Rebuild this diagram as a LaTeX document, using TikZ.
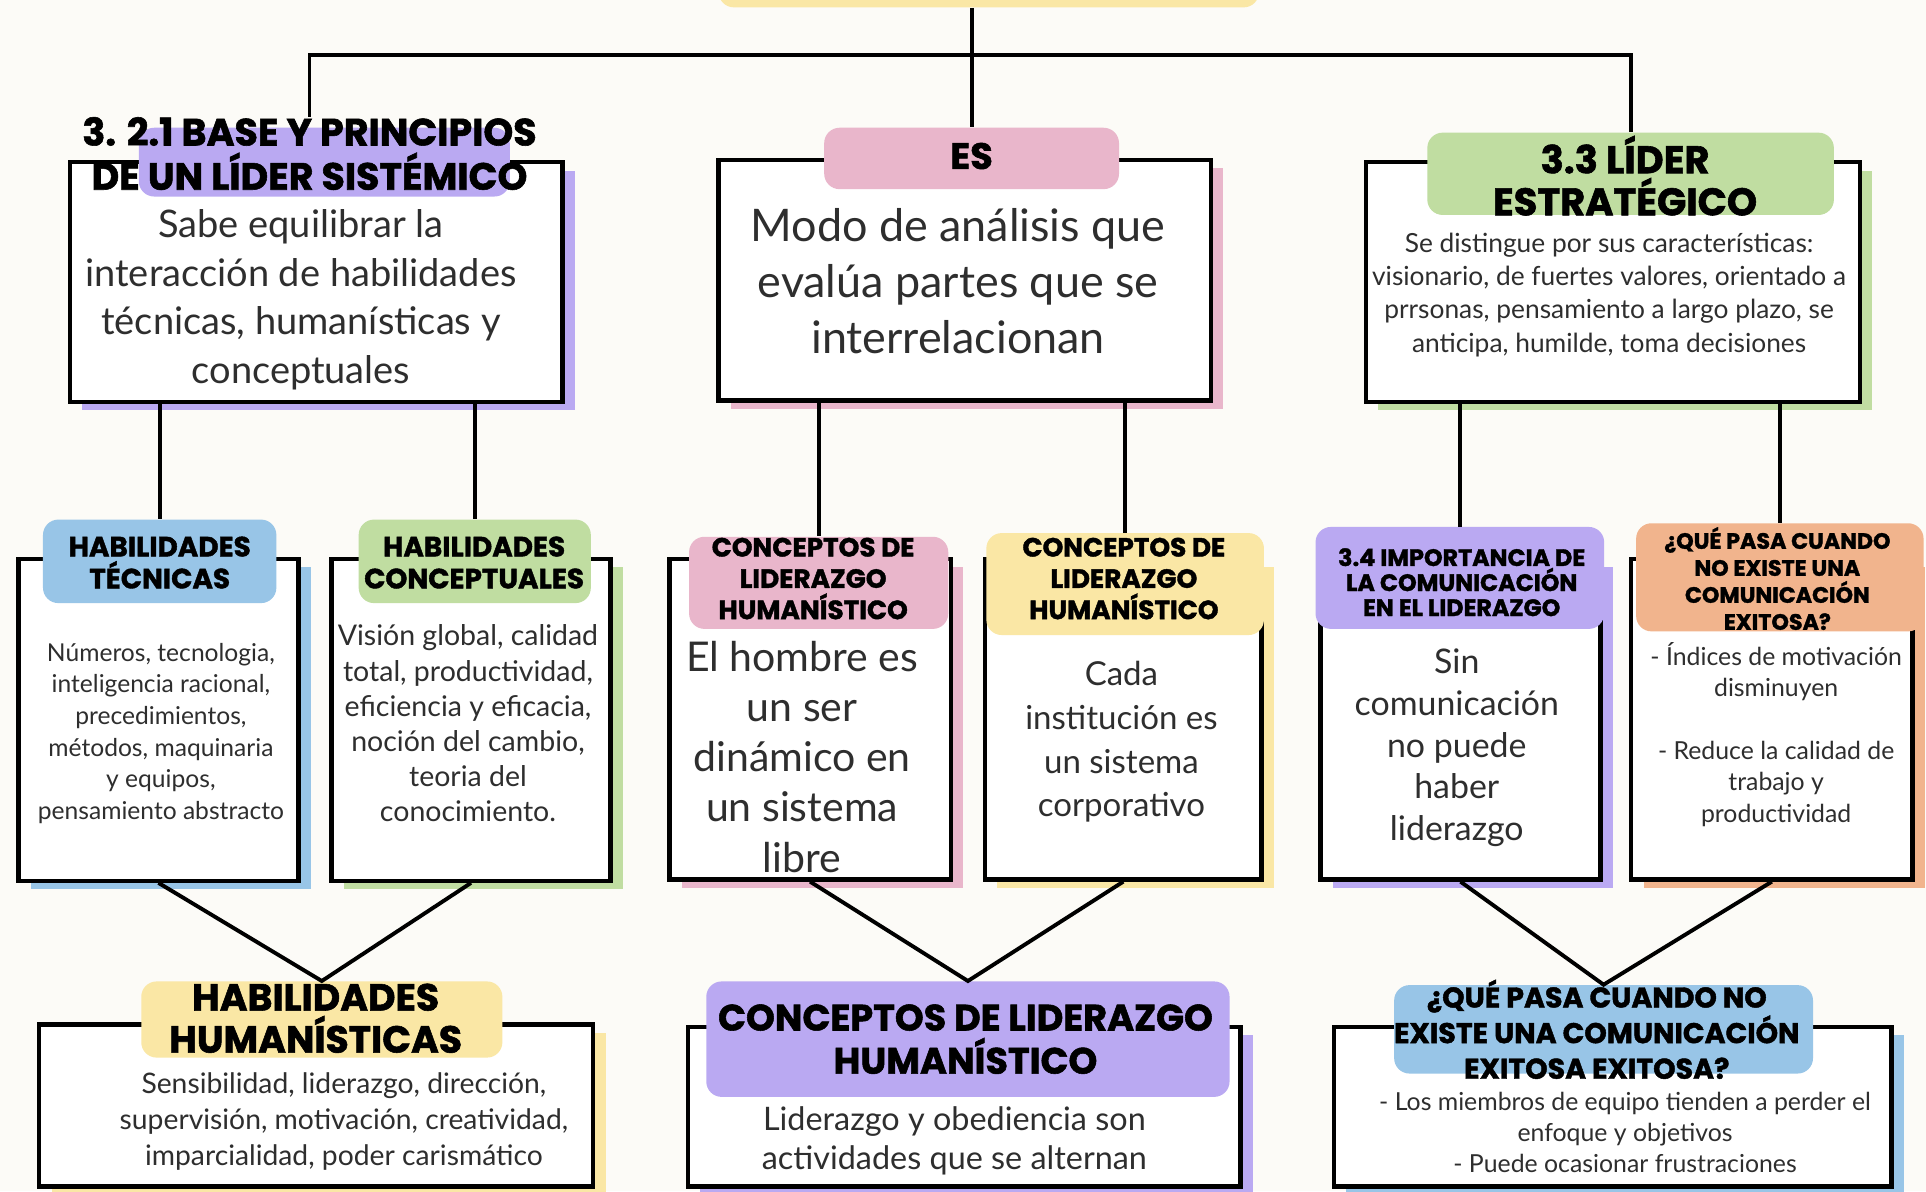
\documentclass[tikz,border=0pt]{standalone}
\usepackage{fontspec}
\usepackage{xcolor}
\usepackage{tikz}
\usetikzlibrary{fit, shadows}

\setmainfont{Lato}
\newfontfamily\titulos{Poppins}[BoldFeatures = {FakeBold = 1.5}]
\newcommand{\tam}[2]{\fontsize{#1}{#2}\selectfont}

\definecolor{fondo}{HTML}{FCFBF7}
\definecolor{tinta}{HTML}{2E2E2E}
\definecolor{lila}{HTML}{BAA9F2}
\definecolor{rosa}{HTML}{E9B6CB}
\definecolor{verde}{HTML}{C0DDA1}
\definecolor{azul}{HTML}{98C5E7}
\definecolor{amarillo}{HTML}{FAE7A5}
\definecolor{naranja}{HTML}{F1B48D}

\begin{document}
\begin{tikzpicture}[x = 0.2mm, y = -0.2mm,
		caja/.style = {draw = black, line width = 2pt, fill = white, inner sep = 0pt,
			drop shadow = {shadow xshift = 2mm, shadow yshift = -1.4mm, fill = #1, opacity = 1}},
		etiqueta/.style = {fill = #1, rounded corners = 2.5mm, inner sep = 0pt},
		cabeza/.style = {align = center, text = black, inner sep = 0pt},
		texto/.style = {align = center, text = tinta, inner sep = 0pt},
		linea/.style = {line width = 1.8pt}]
		
		\fill[fondo, use as bounding box] (0,0) rectangle (1568,970);
		
		\node[etiqueta = amarillo, fit = {(585,-40) (1025,6)}] (titulo) {};
		\coordinate (barra) at (790,45);
		
		\node[caja = lila, fit = {(57,132) (458,327)}] (b1) {};
		\node[etiqueta = lila, fit = {(113,104) (415,160)}] (b1lab) {};
		\node[cabeza, font = \titulos\bfseries\tam{17.6}{20.5}] (b1head) at (252,125) {3. 2.1 BASE Y PRINCIPIOS\\DE UN LÍDER SISTÉMICO};
		\node[texto, font = \tam{17.6}{22.5}] (b1txt) at (245,244) {Sabe equilibrar la\\interacción de habilidades\\técnicas, humanísticas y\\conceptuales};
		
		\node[caja = rosa, fit = {(585,130) (986,326)}] (b2) {};
		\node[etiqueta = rosa, fit = {(671,104) (911,154)}] (eslab) {};
		\node[cabeza, font = \titulos\bfseries\tam{17}{20}] (es) at (791,127) {ES};
		\node[texto, font = \tam{20.8}{26}] (b2txt) at (780,229) {Modo de análisis que\\evalúa partes que se\\interrelacionan};
		
		\node[caja = verde, fit = {(1112,132) (1514,327)}] (b3) {};
		\node[etiqueta = verde, fit = {(1162,108) (1493,175)}] (b3lab) {};
		\node[cabeza, font = \titulos\bfseries\tam{17.8}{19.5}] (b3head) at (1323,143) {3.3 LÍDER\\ESTRATÉGICO};
		\node[texto, font = \tam{12.2}{15.5}] (b3txt) at (1310,240) {Se distingue por sus características:\\visionario, de fuertes valores, orientado a\\prrsonas, pensamiento a largo plazo, se\\anticipa, humilde, toma decisiones};
		
		\node[caja = azul, fit = {(15,455) (243,717)}] (b4) {};
		\node[etiqueta = azul, fit = {(35,423) (225,491)}] (b4lab) {};
		\node[cabeza, font = \titulos\bfseries\tam{12.9}{14.8}] (b4head) at (130,458) {HABILIDADES\\TÉCNICAS};
		\node[texto, font = \tam{11.4}{14.6}] (b4txt) at (131,597) {Números, tecnologia,\\inteligencia racional,\\precedimientos,\\métodos, maquinaria\\y equipos,\\pensamiento abstracto};
		
		\node[caja = verde, fit = {(270,455) (497,717)}] (b5) {};
		\node[etiqueta = verde, fit = {(292,423) (481,491)}] (b5lab) {};
		\node[cabeza, font = \titulos\bfseries\tam{12.9}{14.8}] (b5head) at (386,458) {HABILIDADES\\CONCEPTUALES};
		\node[texto, font = \tam{13.2}{16.3}] (b5txt) at (381,589) {Visión global, calidad\\total, productividad,\\eficiencia y eficacia,\\noción del cambio,\\teoria del\\conocimiento.};
		
		\node[caja = rosa, fit = {(545,455) (774,716)}] (b6) {};
		\node[etiqueta = rosa, fit = {(561,437) (772,512)}] (b6lab) {};
		\node[cabeza, font = \titulos\bfseries\tam{12.2}{14.5}] (b6head) at (662,471) {CONCEPTOS DE\\LIDERAZGO\\HUMANÍSTICO};
		\node[texto, font = \tam{19}{23.3}] (b6txt) at (653,616) {El hombre es\\un ser\\dinámico en\\un sistema\\libre};
		
		\node[caja = amarillo, fit = {(802,455) (1027,716)}] (b7) {};
		\node[etiqueta = amarillo, fit = {(803,434) (1029,517)}] (b7lab) {};
		\node[cabeza, font = \titulos\bfseries\tam{12.2}{14.5}] (b7head) at (915,471) {CONCEPTOS DE\\LIDERAZGO\\HUMANÍSTICO};
		\node[texto, font = \tam{15.3}{20.2}] (b7txt) at (913,604) {Cada\\institución es\\un sistema\\corporativo};
		
		\node[caja = lila, fit = {(1075,455) (1303,716)}] (b8) {};
		\node[etiqueta = lila, fit = {(1071,429) (1306,512)}] (b8lab) {};
		\node[cabeza, font = \titulos\bfseries\tam{11}{11.6}] (b8head) at (1190,474) {3.4 IMPORTANCIA DE\\LA COMUNICACIÓN\\EN EL LIDERAZGO};
		\node[texto, font = \tam{15.7}{19.3}] (b8txt) at (1186,609) {Sin\\comunicación\\no puede\\haber\\liderazgo};
		
		\node[caja = naranja, fit = {(1328,455) (1557,716)}] (b9) {};
		\node[etiqueta = naranja, fit = {(1332,426) (1566,514)}] (b9lab) {};
		\node[cabeza, font = \titulos\bfseries\tam{10.3}{12.5}] (b9head) at (1447,471) {¿QUÉ PASA CUANDO\\NO EXISTE UNA\\COMUNICACIÓN\\EXITOSA?};
		\node[texto, font = \tam{11.5}{14.5}] (b9txt) at (1446,598) {- Índices de motivación\\disminuyen\\[14.5pt]- Reduce la calidad de\\trabajo y\\productividad};
		
		\node[caja = amarillo, fit = {(32,834) (483,966)}] (b10) {};
		\node[etiqueta = amarillo, fit = {(115,799) (409,861)}] (b10lab) {};
		\node[cabeza, font = \titulos\bfseries\tam{17.5}{19.5}] (b10head) at (257,829) {HABILIDADES\\HUMANÍSTICAS};
		\node[texto, font = \tam{13.1}{16.5}] (b10txt) at (280,913) {Sensibilidad, liderazgo, dirección,\\supervisión, motivación, creatividad,\\imparcialidad, poder carismático};
		
		\node[caja = lila, fit = {(560,836) (1010,966)}] (b11) {};
		\node[etiqueta = lila, fit = {(575,799) (1001,893)}] (b11lab) {};
		\node[cabeza, font = \titulos\bfseries\tam{17}{20}] (b11head) at (786,846) {CONCEPTOS DE LIDERAZGO\\HUMANÍSTICO};
		\node[texto, font = \tam{15}{18.2}] (b11txt) at (777,929) {Liderazgo y obediencia son\\actividades que se alternan};
		
		\node[caja = azul, fit = {(1086,836) (1540,966)}] (b12) {};
		\node[etiqueta = azul, fit = {(1135,802) (1476,874)}] (b12lab) {};
		\node[cabeza, font = \titulos\bfseries\tam{13.2}{16.5}] (b12head) at (1300,838) {¿QUÉ PASA CUANDO NO\\EXISTE UNA COMUNICACIÓN\\EXITOSA EXITOSA?};
		\node[texto, font = \tam{11.5}{14.5}] (b12txt) at (1323,922) {- Los miembros de equipo tienden a perder el\\enfoque y objetivos\\- Puede ocasionar frustraciones};
		
		\draw[linea] (eslab.north |- titulo.south) -- (eslab.north);
		\draw[linea] (b1head.north) |- (barra) -| (b3lab.north);
		
		\draw[linea] (b4lab.north |- b1.south) -- (b4lab.north);
		\draw[linea] (b5lab.north |- b1.south) -- (b5lab.north);
		\draw[linea] (b6lab.north |- b2.south) -- (b6lab.north);
		\draw[linea] (b7lab.north |- b2.south) -- (b7lab.north);
		\draw[linea] (b8lab.north |- b3.south) -- (b8lab.north);
		\draw[linea] (b9lab.north |- b3.south) -- (b9lab.north);
		
		\draw[linea] (b4.south) -- (b10lab.north) -- (b5.south);
		\draw[linea] (b6.south) -- (b11lab.north) -- (b7.south);
		\draw[linea] (b8.south) -- (b12lab.north) -- (b9.south);
	\end{tikzpicture}
\end{document}
